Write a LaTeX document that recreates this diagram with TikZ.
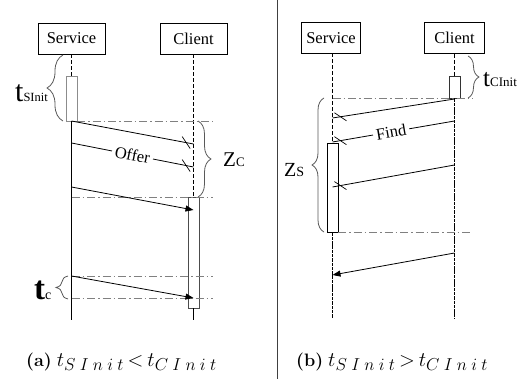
\documentclass[tikz,border=0pt]{standalone}
\usepackage{fontspec}
\newfontfamily\tnr{Liberation Serif}
\usetikzlibrary{arrows.meta,decorations.pathreplacing}

\tikzset{
  objbox/.style={draw=black, line width=0.9pt, rectangle, inner sep=0pt,
    minimum height=31pt, font=\tnr\fontsize{16.5}{18}\selectfont},
  actbox/.style={draw=#1, fill=white, line width=0.9pt, rectangle, inner sep=0pt,
    minimum width=11pt},
  lifedash/.style={line width=0.8pt, dash pattern=on 4pt off 2pt},
  lifesolid/.style={line width=0.9pt},
  lifedense/.style={line width=0.9pt, dash pattern=on 3.5pt off 0.8pt},
  timeline/.style={black!50, line width=0.8pt, dash pattern=on 8pt off 3pt on 1.5pt off 3pt},
  msg/.style={line width=0.8pt},
  sync/.style={msg, -{Triangle[length=8pt,width=6pt]}},
  lost/.style={line width=0.7pt},
  msglbl/.style={fill=white, inner sep=3pt, font=\tnr\fontsize{16.5}{18}\selectfont},
  span/.style={black!65, line width=0.8pt, decorate,
    decoration={brace, amplitude=#1}},
  spanlbl/.style={anchor=base west, inner sep=0pt, font=\tnr},
  caption/.style={anchor=base west, inner sep=0pt},
  divider/.style={black!75, line width=0.9pt},
}

% caption pieces: bold tag, then the two start times
\newcommand{\captag}[1]{{\fontsize{18}{20}\selectfont\bfseries(#1)}\hspace{5pt}}
\newcommand{\capt}[1]{{\fontsize{22}{22}\selectfont$t$}%
  \raisebox{-4pt}{\fontsize{17}{17}\selectfont$#1$}}
\newcommand{\caprel}[1]{\hspace{4pt}{\fontsize{21}{21}\selectfont$#1$}\hspace{4pt}}
\newcommand{\sinit}{S\mkern4.5mu I\mkern4.5mu n\mkern4.5mu i\mkern4.5mu t}
\newcommand{\cinit}{C\mkern4.5mu I\mkern4.5mu n\mkern4.5mu i\mkern4.5mu t}

\begin{document}
\begin{tikzpicture}[x=1pt, y=-1pt]
\useasboundingbox (0,0) rectangle (530,379);

% ---------------- (a) service starts first ----------------
\node[objbox, minimum width=67pt] (sA) at (71.5,38.5) {Service};
\node[objbox, minimum width=67pt] (cA) at (193.5,38.5) {Client};

\node[actbox=black!45, minimum height=45pt] (sAact) at (71.5,98.5) {};
\node[actbox=black!70, minimum height=111pt] (cAact) at (193.5,252.5) {};

\coordinate (sAend) at (71.5,320);
\coordinate (cAend) at (193.5,320);

\draw[lifedash] (sA.south) -- (sAact.north);
\draw[lifesolid] (sAact.south) -- (sAend);
\draw[lifedash] (cA.south) -- (cAact.north);
\draw[lifesolid] (cAact.south) -- (cAend);

% time markers
\coordinate (gA1a) at (77,121);    \coordinate (gA1b) at (213,121);
\coordinate (gA2a) at (71.5,197);  \coordinate (gA2b) at (213,197);
\coordinate (gA3a) at (71.5,276);  \coordinate (gA3b) at (213,276);
\coordinate (gA4a) at (71.5,298);  \coordinate (gA4b) at (213,298);
\draw[timeline] (gA1a) -- (gA1b);
\draw[timeline] (gA2a) -- (gA2b);
\draw[timeline] (gA3a) -- (gA3b);
\draw[timeline] (gA4a) -- (gA4b);

% messages
\coordinate (m1s) at (71.5,121); \coordinate (m1c) at (193.5,144);
\coordinate (m2s) at (71.5,143); \coordinate (m2c) at (193.5,167);
\coordinate (m3s) at (71.5,187); \coordinate (m3c) at (193.5,210);
\coordinate (m4s) at (71.5,276); \coordinate (m4c) at (193.5,298);

\draw[msg] (m1s) -- (m1c) coordinate[pos=0.94] (m1x);
\draw[lost] (m1x) +(-4,-6) -- +(4,6);
\draw[msg] (m2s) -- node[msglbl, sloped, pos=0.5] (offer) {Offer} (m2c)
  coordinate[pos=0.94] (m2x);
\draw[lost] (m2x) +(-4,-6) -- +(4,6);
\draw[sync] (m3s) -- (m3c);
\draw[sync] (m4s) -- (m4c);

% intervals
\draw[span=16pt] (63,121) -- (63,55);
\node[spanlbl] (tSInit) at (15,102)
  {\fontsize{30}{30}\selectfont t\fontsize{12.5}{13}\selectfont SInit};
\draw[span=13pt] (198,121) -- (198,197);
\node[spanlbl] (zC) at (223,167)
  {\fontsize{21}{21}\selectfont Z\fontsize{13}{13}\selectfont C};
\draw[span=12pt] (68,299) -- (68,276);
\node[spanlbl] (tc) at (34,299)
  {\fontsize{33}{33}\selectfont\bfseries t\fontsize{14}{14}\selectfont\mdseries c};

\node[caption] (capA) at (26,366)
  {\captag{a}\capt{\sinit}\caprel{<}\capt{\cinit}};

% ---------------- divider ----------------
\coordinate (dTop) at (277,0);
\coordinate (dBot) at (277,379);
\draw[divider] (dTop) -- (dBot);

% ---------------- (b) client starts first ----------------
\node[objbox, minimum width=59pt] (sB) at (331,38) {Service};
\node[objbox, minimum width=60pt] (cB) at (454.5,38) {Client};

\node[actbox=black, minimum height=89pt] (sBact) at (332.5,187.5) {};
\node[actbox=black!80, minimum height=22pt] (cBact) at (454.5,87) {};

\coordinate (sBtop) at (332.5,53.5);
\coordinate (sBend) at (332.5,318);
\coordinate (cBend) at (454.5,318);

\draw[lifedash] (sBtop) -- (sBact.north);
\draw[lifedense] (sBact.south) -- (sBend);
\draw[lifedash] (cB.south) -- (cBact.north);
\draw[lifedense] (cBact.south) -- (cBend);

% time markers
\coordinate (gB1a) at (332.5,98);  \coordinate (gB1b) at (473,98);
\coordinate (gB2a) at (338,232);   \coordinate (gB2b) at (472,232);
\draw[timeline] (gB1a) -- (gB1b);
\draw[timeline] (gB2a) -- (gB2b);

% messages
\coordinate (n1c) at (454.5,99);  \coordinate (n1s) at (332.5,118);
\coordinate (n2c) at (454.5,121); \coordinate (n2s) at (332.5,142);
\coordinate (n3c) at (454.5,165); \coordinate (n3s) at (332.5,187);
\coordinate (n4c) at (454.5,253); \coordinate (n4s) at (332.5,275);

\draw[msg] (n1c) -- (n1s) coordinate[pos=0.935] (n1x);
\draw[lost] (n1x) +(-6,-4) -- +(6,4);
\draw[msg] (n2c) -- node[msglbl, sloped, pos=0.52] (find) {Find} (n2s)
  coordinate[pos=0.935] (n2x);
\draw[lost] (n2x) +(-6,-4) -- +(6,4);
\draw[msg] (n3c) -- (n3s) coordinate[pos=0.935] (n3x);
\draw[lost] (n3x) +(-6,-4) -- +(6,4);
\draw[sync] (n4c) -- (n4s);

% intervals
\draw[span=11pt] (468,56) -- (468,98);
\node[spanlbl] (tCInit) at (483,87)
  {\fontsize{25}{25}\selectfont t\fontsize{13}{13}\selectfont CInit};
\draw[span=12pt] (324,232) -- (324,98);
\node[spanlbl] (zS) at (284,177)
  {\fontsize{20}{20}\selectfont Z\fontsize{14}{14}\selectfont S};

\node[caption] (capB) at (296,366)
  {\captag{b}\capt{\sinit}\caprel{>}\capt{\cinit}};
\end{tikzpicture}
\end{document}
